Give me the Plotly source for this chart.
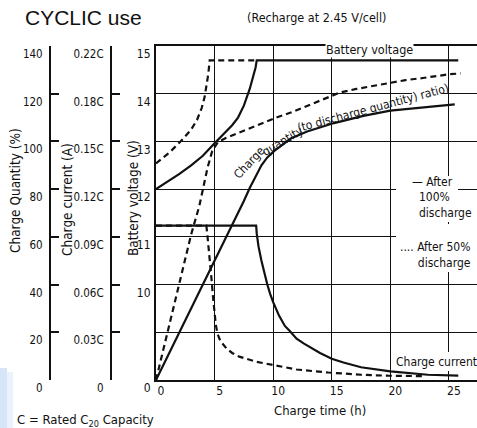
import plotly.graph_objects as go

# ---------------- data ----------------
# Battery voltage (V) vs charge time (h)
volt_t_100 = [0, 1, 2, 3, 4, 5, 6, 6.5, 7, 7.5, 8, 8.3, 8.5, 8.6, 25.8]
volt_100 = [12.0, 12.16, 12.32, 12.5, 12.7, 12.96, 13.22, 13.34, 13.5, 13.75, 14.1, 14.35, 14.55, 14.7, 14.7]
volt_t_50 = [0, 1.2, 2.3, 3.0, 3.5, 3.9, 4.15, 4.3, 4.41, 4.5, 4.58, 8.6]
volt_50 = [12.54, 12.78, 13.05, 13.25, 13.45, 13.7, 13.93, 14.12, 14.33, 14.5, 14.7, 14.7]

# Charge quantity (% of discharge quantity)
qty_t_100 = [0, 2, 4, 7, 7.5, 8, 8.5, 9, 9.5, 10.1, 11.5, 12.9, 15.2, 17.7, 20, 22.8, 25.5]
qty_100 = [0, 20, 40, 69.5, 75, 80.5, 85.5, 90, 93.3, 96, 101.2, 104.2, 107.7, 110.7, 112.9, 114.1, 115.5]
qty_t_50 = [0, 1, 2, 3, 3.7, 4.0, 4.4, 4.8, 5.3, 6.0, 7.0, 8.0, 9.0, 10.1, 11.5, 12.9, 14.3,
            15.7, 17.1, 18.6, 20, 21.3, 22.8, 25.1, 26]
qty_50 = [0, 20.5, 41, 61, 73, 80, 89, 96, 99.8, 101.5, 103.5, 105.5, 107.5, 109.7, 112.1, 115, 117.9,
          120.5, 122, 123.3, 124.6, 125.7, 126.6, 128.2, 128.5]

# Charge current (in units of C)
cur_t_100 = [0, 8.55, 8.6, 8.75, 9.0, 9.25, 9.5, 9.75, 10, 10.5, 11, 11.4, 12, 12.6, 13.3, 14, 15, 16,
             17.5, 20, 23.2, 25.8]
cur_100 = [0.097, 0.097, 0.092, 0.084, 0.075, 0.067, 0.060, 0.054, 0.049, 0.0405, 0.034, 0.031, 0.026,
           0.023, 0.020, 0.017, 0.0134, 0.011, 0.008, 0.0054, 0.0033, 0.0027]
cur_t_50 = [0, 4.3, 4.4, 4.5, 4.62, 4.75, 4.87, 5.0, 5.1, 5.25, 5.5, 6.0, 6.5, 7.1, 8.6, 10.1, 12, 14.7,
            17.5, 19.8, 23]
cur_50 = [0.097, 0.097, 0.09, 0.083, 0.073, 0.0626, 0.052, 0.041, 0.035, 0.029, 0.0245, 0.020, 0.017,
          0.0147, 0.0114, 0.0093, 0.0066, 0.0047, 0.0033, 0.0027, 0.0024]

# tick labels
x_ticks = [0, 5, 10, 15, 20, 25]
volt_ticks = [8, 9, 10, 11, 12, 13, 14, 15]
volt_ticktext = ["0", "", "10", "11", "12", "13", "14", "15"]
qty_ticks = [0, 20, 40, 60, 80, 100, 120, 140]
cur_ticks = [0, 0.03, 0.06, 0.09, 0.12, 0.15, 0.18, 0.21]
cur_ticktext = ["0", "0.03C", "0.06C", "0.09C", "0.12C", "0.15C", "0.18C", "0.22C"]

# ---------------- figure ----------------
W, H = 477, 428
ML, MR, MT, MB = 0, 0, 46, 48
X0PX = 156  # left edge of the plot area in px
XMAX = 27.4
VMIN, VMAX = 8, 15
FONT = "Liberation Sans Narrow, DejaVu Sans Condensed, Roboto Condensed, Liberation Sans, sans-serif"
INK = "#111111"

def px(x):
    return x / W

def py(y):
    return (H - MB - y) / (H - MT - MB)

def hx(x):  # pixel -> hours (x data)
    return (x - X0PX) / (W - MR - X0PX) * XMAX

def vy(y):  # pixel -> volts (y data)
    return VMIN + (H - MB - y) / (H - MT - MB) * (VMAX - VMIN)

solid = dict(color=INK, width=2.2)
dashed = dict(color=INK, width=2.2, dash="6px,4px")

fig = go.Figure()
fig.add_trace(go.Scatter(x=volt_t_50, y=volt_50, mode="lines", line=dashed, yaxis="y", name="V 50%"))
fig.add_trace(go.Scatter(x=volt_t_100, y=volt_100, mode="lines", line=solid, yaxis="y", name="V 100%"))
fig.add_trace(go.Scatter(x=qty_t_50, y=qty_50, mode="lines", line=dashed, yaxis="y2", name="Q 50%"))
fig.add_trace(go.Scatter(x=qty_t_100, y=qty_100, mode="lines", line=solid, yaxis="y2", name="Q 100%"))
fig.add_trace(go.Scatter(x=cur_t_50, y=cur_50, mode="lines", line=dashed, yaxis="y3", name="I 50%"))
fig.add_trace(go.Scatter(x=cur_t_100, y=cur_100, mode="lines", line=solid, yaxis="y3", name="I 100%"))

tickfont = dict(family=FONT, size=11.5, color=INK)

fig.update_layout(
    width=W, height=H,
    margin=dict(l=ML, r=MR, t=MT, b=MB, pad=0),
    paper_bgcolor="white", plot_bgcolor="rgba(0,0,0,0)",
    showlegend=False,
    font=dict(family=FONT, size=12, color=INK),
    xaxis=dict(
        domain=[X0PX / W, 1], range=[0, XMAX],
        tickvals=x_ticks, ticks="", tickfont=dict(family=FONT, size=12, color=INK),
        ticklabelshift=5, ticklabelstandoff=-1,
        showgrid=True, gridcolor=INK, gridwidth=1.3,
        showline=True, linecolor=INK, linewidth=2, mirror=True,
        zeroline=False,
    ),
    yaxis=dict(
        range=[VMIN, VMAX], tickvals=volt_ticks, ticktext=volt_ticktext,
        ticks="", tickfont=dict(family=FONT, size=12, color=INK),
        ticklabelshift=8, ticklabelstandoff=1,
        showgrid=True, gridcolor=INK, gridwidth=1.3,
        showline=True, linecolor=INK, linewidth=2, zeroline=False,
    ),
    yaxis2=dict(
        overlaying="y", anchor="free", position=50 / W, side="left",
        range=[0, 140], tickvals=qty_ticks,
        ticks="inside", ticklen=8, tickwidth=2, tickcolor=INK,
        tickfont=tickfont, ticklabelshift=8, ticklabelstandoff=4,
        showgrid=False, zeroline=False,
        showline=True, linecolor=INK, linewidth=2,
    ),
    yaxis3=dict(
        overlaying="y", anchor="free", position=111 / W, side="left",
        range=[0, 0.21], tickvals=cur_ticks, ticktext=cur_ticktext,
        ticks="inside", ticklen=8, tickwidth=2, tickcolor=INK,
        tickfont=tickfont, ticklabelshift=8, ticklabelstandoff=4,
        showgrid=False, zeroline=False,
        showline=True, linecolor=INK, linewidth=2,
    ),
)

# white patches that interrupt grid lines behind the right-hand labels
patches = [
    (396, 458, 176, 222),   # "— After 100% discharge"
    (396, 477, 224, 272),   # ".... After 50% discharge"
    (396, 477, 352, 371),   # "Charge current"
    (412, 442, 92, 101),    # where the curved label crosses the 14 V line
]
for x0, x1, y0, y1 in patches:
    fig.add_shape(type="rect", xref="x", yref="y",
                  x0=hx(x0), x1=hx(x1), y0=vy(y1), y1=vy(y0),
                  fillcolor="white", line=dict(width=0), layer="between")

# faint blue scan artefact at bottom-left
fig.add_shape(type="rect", xref="paper", yref="paper", x0=px(0), x1=px(7), y0=py(428), y1=py(368),
              fillcolor="#d6e6f8", line=dict(width=0), layer="below")
fig.add_shape(type="rect", xref="paper", yref="paper", x0=px(7), x1=px(13), y0=py(428), y1=py(372),
              fillcolor="#eaf2fc", line=dict(width=0), layer="below")

def note(text, x, y, size=12, xanchor="left", angle=0, bg=None, yanchor="middle",
         family=FONT, align="left"):
    kw = dict(text=text, xref="paper", yref="paper", x=px(x), y=py(y),
              xanchor=xanchor, yanchor=yanchor, showarrow=False, textangle=angle,
              align=align, font=dict(family=family, size=size, color=INK), borderpad=0)
    if bg:
        kw["bgcolor"] = bg
    fig.add_annotation(**kw)

# titles
note("CYCLIC use", 24, 17, size=21, family="Liberation Sans, Arial, sans-serif")
note("(Recharge at 2.45 V/cell)", 246, 17, size=12.5)

# axis titles
note("Charge Quantity (%)", 15, 191, size=13.5, xanchor="center", angle=-90)
note("Charge current (A)", 67, 200, size=13.5, xanchor="center", angle=-90)
note("Battery voltage (V)", 133, 198, size=13.5, xanchor="center", angle=-90)
note("Charge time (h)", 320, 410, size=13, xanchor="center")
note("C = Rated C<sub>20</sub> Capacity", 16, 420, size=13)

# in-plot labels
note("Battery voltage", 369, 50, size=12.5, xanchor="center", bg="white")
note("Charge", 249, 163, size=12, xanchor="center", angle=-47)
note("quantity", 283, 141, size=12, xanchor="center", angle=-31)
note("(to discharge quantity) ratio)", 373, 108, size=12, xanchor="center", angle=-15)
note("— After", 411, 182, size=12)
note("100%<br>discharge", 418, 205, size=12)
note(".... After 50%<br>discharge", 472, 255, size=12, xanchor="right", align="right")
note("Charge current", 395, 362, size=12)

fig.write_html("out.html", config={"displayModeBar": False},
               post_script="document.body.style.margin='0';document.body.style.padding='0';")
